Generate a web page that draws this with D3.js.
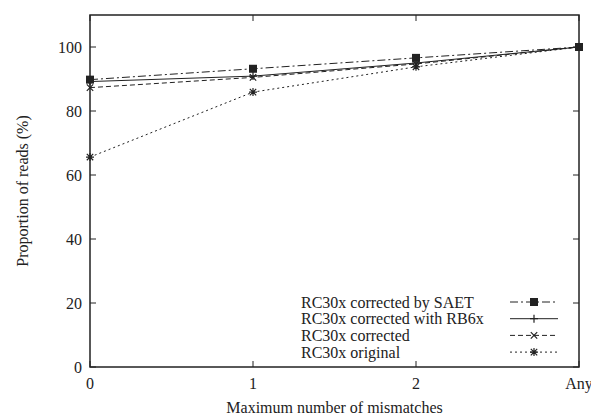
<!DOCTYPE html>
<html>
<head>
<meta charset="UTF-8">
<style>
  body { margin: 0; background: white; }
  svg text { font-family: "Liberation Serif", "Times New Roman", Times, serif; fill: #222; }
</style>
</head>
<body>
<svg></svg>
<script src="https://d3js.org/d3.v7.min.js"></script>
<script>
const W = 591, H = 417;

const categories = ["0", "1", "2", "Any"];
const seriesNames = ["RC30x corrected by SAET", "RC30x corrected with RB6x", "RC30x corrected", "RC30x original"];
const saet = [89.8, 93.2, 96.6, 100];
const rb6x = [89.2, 90.9, 95.0, 100];
const corrected = [87.3, 90.5, 94.7, 100];
const original = [65.6, 85.9, 93.8, 100];
const yTicks = [0, 20, 40, 60, 80, 100];

const margin = {left: 90, right: 12, top: 15, bottom: 50};
const fs = 16;
const svg = d3.select("svg").attr("width", W).attr("height", H);

const x = d3.scalePoint().domain(categories).range([margin.left, W - margin.right]);
const y = d3.scaleLinear().domain([0, 110]).range([H - margin.bottom, margin.top]);

const ink = "#222";

// frame
svg.append("rect")
  .attr("x", margin.left).attr("y", margin.top)
  .attr("width", W - margin.right - margin.left)
  .attr("height", H - margin.bottom - margin.top)
  .attr("fill", "none").attr("stroke", ink).attr("stroke-width", 1.5);

// ticks, mirrored inward on all four sides
const tl = 6;
let g = svg.append("g").attr("stroke", ink).attr("stroke-width", 1);
yTicks.forEach(v => {
  g.append("line").attr("x1", margin.left).attr("x2", margin.left + tl).attr("y1", y(v)).attr("y2", y(v));
  g.append("line").attr("x1", W - margin.right).attr("x2", W - margin.right - tl).attr("y1", y(v)).attr("y2", y(v));
});
categories.forEach(c => {
  g.append("line").attr("x1", x(c)).attr("x2", x(c)).attr("y1", y(0)).attr("y2", y(0) - tl);
  g.append("line").attr("x1", x(c)).attr("x2", x(c)).attr("y1", margin.top).attr("y2", margin.top + tl);
});

// tick labels
svg.append("g").selectAll("text").data(yTicks).enter().append("text")
  .attr("x", margin.left - 8).attr("y", d => y(d)).attr("dy", "0.35em")
  .attr("text-anchor", "end").attr("font-size", fs).text(d => d);
svg.append("g").selectAll("text").data(categories).enter().append("text")
  .attr("x", d => x(d)).attr("y", y(0) + 22)
  .attr("text-anchor", "middle").attr("font-size", fs).text(d => d);

// axis titles
svg.append("text").attr("x", (margin.left + W - margin.right) / 2).attr("y", 413)
  .attr("text-anchor", "middle").attr("font-size", fs).text("Maximum number of mismatches");
svg.append("text").attr("transform", `translate(28, ${(margin.top + H - margin.bottom) / 2}) rotate(-90)`)
  .attr("text-anchor", "middle").attr("font-size", fs).text("Proportion of reads (%)");

// markers
function marker(sel, type, cx, cy) {
  const s = 4;
  if (type === "square") {
    sel.append("rect").attr("x", cx - s).attr("y", cy - s).attr("width", 2 * s).attr("height", 2 * s).attr("fill", ink);
    return;
  }
  const p = d3.path();
  if (type === "plus" || type === "star") {
    p.moveTo(cx - s, cy); p.lineTo(cx + s, cy);
    p.moveTo(cx, cy - s); p.lineTo(cx, cy + s);
  }
  if (type === "cross" || type === "star") {
    const k = s * 0.8;
    p.moveTo(cx - k, cy - k); p.lineTo(cx + k, cy + k);
    p.moveTo(cx - k, cy + k); p.lineTo(cx + k, cy - k);
  }
  sel.append("path").attr("d", p.toString()).attr("stroke", ink).attr("stroke-width", 1.2).attr("fill", "none");
}

const series = [
  {name: seriesNames[0], values: saet, dash: "8,3,2,3", mk: "square"},
  {name: seriesNames[1], values: rb6x, dash: null, mk: "plus"},
  {name: seriesNames[2], values: corrected, dash: "5,3", mk: "cross"},
  {name: seriesNames[3], values: original, dash: "2,3", mk: "star"}
];

const line = d3.line().x((d, i) => x(categories[i])).y(d => y(d));

// draw bottom series first
series.slice().reverse().forEach(s => {
  const sg = svg.append("g");
  sg.append("path").datum(s.values).attr("d", line)
    .attr("fill", "none").attr("stroke", ink).attr("stroke-width", 1)
    .attr("stroke-dasharray", s.dash);
  s.values.forEach((v, i) => marker(sg, s.mk, x(categories[i]), y(v)));
});

// legend
const lg = svg.append("g");
series.forEach((s, i) => {
  const ly = 302 + i * 16.7;
  lg.append("text").attr("x", 301).attr("y", ly).attr("dy", "0.35em")
    .attr("font-size", fs).text(s.name);
  lg.append("line").attr("x1", 510).attr("x2", 558).attr("y1", ly).attr("y2", ly)
    .attr("stroke", ink).attr("stroke-width", 1).attr("stroke-dasharray", s.dash);
  marker(lg, s.mk, 534, ly);
});
</script>
</body>
</html>
